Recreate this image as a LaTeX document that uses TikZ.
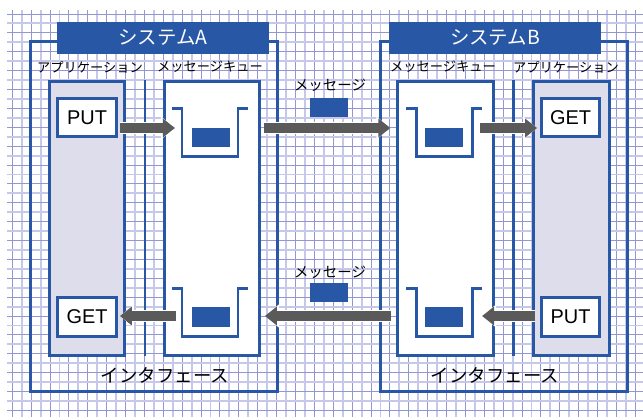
\documentclass[tikz,border=0pt]{standalone}
\usepackage{fontspec}
\setmainfont{Noto Sans CJK JP}
\newfontfamily\latfont{Liberation Sans}
\usetikzlibrary{arrows.meta,calc}
\definecolor{bblue}{RGB}{40,88,165}
\definecolor{lav}{RGB}{221,221,236}
\definecolor{agray}{RGB}{90,90,90}
\definecolor{gridd}{RGB}{146,151,212}
\definecolor{gridl}{RGB}{198,200,233}
\tikzset{
  frame/.style={draw=bblue,line width=3,inner sep=0,outer sep=0},
  titlebar/.style={fill=bblue,minimum width=212,minimum height=32,inner sep=0,text=white,font=\fontsize{19.5}{20}\selectfont},
  colapp/.style={frame,fill=lav,minimum width=76,minimum height=275},
  colque/.style={frame,fill=white,minimum width=96,minimum height=275},
  opbox/.style={frame,fill=white,minimum width=60,minimum height=39,font=\latfont\fontsize{20}{20}\selectfont},
  msgblk/.style={fill=bblue,minimum width=38,minimum height=19,inner sep=0},
  lbl/.style={inner sep=0,font=\fontsize{13.3}{14}\selectfont},
  mlbl/.style={inner sep=0,font=\fontsize{14.5}{15}\selectfont},
  iflbl/.style={inner sep=0,font=\fontsize{18.5}{19}\selectfont},
  cupline/.style={draw=bblue,line width=3,miter limit=10},
  sepline/.style={draw=bblue,line width=3},
  arrw/.style={draw=white,line width=12.5,-{Triangle[length=14,width=22]}},
  arr/.style={draw=agray,line width=10,-{Triangle[length=12,width=18]}},
  cup/.pic={\draw[cupline] (-38,-29.5) -- (-28,-29.5) -- (-28,18.5) -- (28,18.5) -- (28,-29.5) -- (38,-29.5);}
}
\begin{document}
\begin{tikzpicture}[x=1bp,y=-1bp]
\useasboundingbox (0,0) rectangle (643,419);
\fill[white] (0,0) rectangle (643,419);
% grid
\foreach \i in {0,...,66} {
  \pgfmathsetmacro\gx{12.3+9.44*\i}
  \pgfmathtruncatemacro\gp{mod(\i,2)}
  \ifnum\gp=0
    \draw[gridd,line width=1] (\gx,10) -- (\gx,417);
  \else
    \draw[gridl,line width=1.9] (\gx,10) -- (\gx,417);
  \fi
}
\foreach \j in {0,...,42} {
  \pgfmathsetmacro\gy{14+9.44*\j}
  \pgfmathtruncatemacro\gp{mod(\j,2)}
  \ifnum\gp=0
    \draw[gridd,line width=1] (7,\gy) -- (643,\gy);
  \else
    \draw[gridl,line width=1.9] (7,\gy) -- (643,\gy);
  \fi
}
\coordinate (rowT) at (0,128);
\coordinate (rowB) at (0,316);
% system frames
\node[frame,minimum width=248,minimum height=351] (sysA) at (154,216.5) {};
\node[frame,minimum width=248,minimum height=351] (sysB) at (504,216.5) {};
\node[titlebar] (titleA) at (163,38) {システムA};
\node[titlebar] (titleB) at (495,38) {システムB};
% column labels
\node[lbl] (lblAppA) at (90,67) {アプリケーション};
\node[lbl] (lblQueA) at (210,67) {メッセージキュー};
\node[lbl] (lblQueB) at (443,67) {メッセージキュー};
\node[lbl] (lblAppB) at (566,67) {アプリケーション};
% columns
\node[colapp] (appA) at (87,218.5) {};
\node[colque] (queA) at (212,218.5) {};
\node[colque,minimum width=97] (queB) at (445.5,218.5) {};
\node[colapp,minimum width=77] (appB) at (571.5,218.5) {};
\draw[sepline] (145,80) -- (145,356);
\draw[sepline] (513,80) -- (513,356);
% op boxes
\node[opbox] (putA) at (87,117.5) {PUT};
\node[opbox,minimum height=40] (getA) at (87,317) {GET};
\node[opbox,minimum width=59] (getB) at (570.5,117.5) {GET};
\node[opbox,minimum width=59,minimum height=40] (putB) at (570.5,317) {PUT};
% cups and messages
\pic at (210,137.5) {cup};
\pic at (210,318) {cup};
\pic at (444,137.5) {cup};
\pic at (444,318) {cup};
\node[msgblk] (msgA1) at (211,137.5) {};
\node[msgblk,minimum height=20] (msgA2) at (211,317) {};
\node[msgblk] (msgB1) at (444,137.5) {};
\node[msgblk,minimum height=20] (msgB2) at (444,317) {};
% messages in transit
\node[mlbl] (lblM1) at (330,85) {メッセージ};
\node[msgblk] (msgM1) at (329,107.5) {};
\node[mlbl] (lblM2) at (330,272) {メッセージ};
\node[msgblk] (msgM2) at (329,292.5) {};
% interface labels
\node[iflbl] (ifA) at (165,375) {インタフェース};
\node[iflbl] (ifB) at (495,375) {インタフェース};
% arrows
\foreach \s in {arrw,arr} {
  \draw[\s] ([xshift=3]putA.east |- rowT) -- ([xshift=-17]msgA1.west |- rowT);
  \draw[\s] ([xshift=4]queA.east |- rowT) -- ([xshift=10]sysB.west |- rowT);
  \draw[\s] ([xshift=17]msgB1.east |- rowT) -- ([xshift=-4]getB.west |- rowT);
  \draw[\s] ([xshift=-6]putB.west |- rowB) -- ([xshift=19]msgB2.east |- rowB);
  \draw[\s] ([xshift=-6]queB.west |- rowB) -- ([xshift=5]queA.east |- rowB);
  \draw[\s] ([xshift=-16]msgA2.west |- rowB) -- ([xshift=3]getA.east |- rowB);
}
\end{tikzpicture}
\end{document}
